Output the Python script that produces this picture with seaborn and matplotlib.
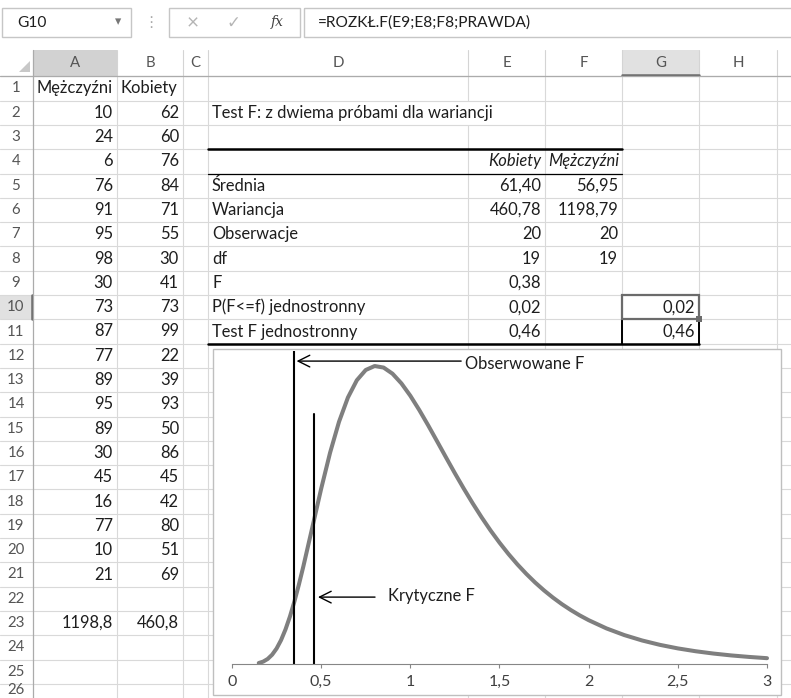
import matplotlib
matplotlib.use("Agg")
import matplotlib.pyplot as plt
import seaborn as sns
from matplotlib.patches import Rectangle, Polygon

sns.set_style("white")
plt.rcParams["font.family"] = ["Lato", "DejaVu Sans"]

# spreadsheet data
mezczyzni = [10, 24, 6, 76, 91, 95, 98, 30, 73, 87, 77, 89, 95, 89, 30, 45, 16, 77, 10, 21]
kobiety = [62, 60, 76, 84, 71, 55, 30, 41, 73, 99, 22, 39, 93, 50, 86, 45, 42, 80, 51, 69]
wariancje = ["1198,8", "460,8"]
stat_labels = ["Średnia", "Wariancja", "Obserwacje", "df", "F",
               "P(F<=f) jednostronny", "Test F jednostronny"]
kobiety_stats = ["61,40", "460,78", "20", "19", "0,38", "0,02", "0,46"]
mezczyzni_stats = ["56,95", "1198,79", "20", "19", "", "", ""]
g_values = ["0,02", "0,46"]
formula = "=ROZKŁ.F(E9;E8;F8;PRAWDA)"

# chart data: F(19,19) density
f_x = [0.15, 0.175, 0.20, 0.225, 0.25, 0.275, 0.30, 0.325, 0.35, 0.375, 0.40, 0.45,
       0.50, 0.55, 0.60, 0.65, 0.70, 0.75, 0.80, 0.85, 0.90, 0.95, 1.00, 1.05,
       1.10, 1.15, 1.20, 1.25, 1.30, 1.35, 1.40, 1.45, 1.50, 1.55, 1.60, 1.65,
       1.70, 1.75, 1.80, 1.85, 1.90, 1.95, 2.00, 2.10, 2.20, 2.30, 2.40, 2.50,
       2.60, 2.70, 2.80, 2.90, 3.00]
f_pdf = [0.0031, 0.0077, 0.0161, 0.0297, 0.0495, 0.0763, 0.1106, 0.1521, 0.2001,
         0.2539, 0.3120, 0.4360, 0.5606, 0.6760, 0.7747, 0.8525, 0.9077, 0.9406,
         0.9532, 0.9483, 0.9287, 0.8976, 0.8581, 0.8126, 0.7635, 0.7124, 0.6609,
         0.6100, 0.5608, 0.5137, 0.4690, 0.4271, 0.3882, 0.3521, 0.3189, 0.2885,
         0.2606, 0.2353, 0.2123, 0.1914, 0.1726, 0.1555, 0.1402, 0.1138, 0.0925,
         0.0752, 0.0612, 0.0499, 0.0408, 0.0334, 0.0274, 0.0226, 0.0186]
obs_f, obs_top = 0.35, 1.0
crit_f, crit_top = 0.46, 0.8
x_ticks = [0, 0.5, 1, 1.5, 2, 2.5, 3]
x_tick_labels = ["0", "0,5", "1", "1,5", "2", "2,5", "3"]

W, H = 791, 698
fig = plt.figure(figsize=(W / 100, H / 100), dpi=100)
bg = fig.add_axes([0, 0, 1, 1])
bg.set_xlim(0, W)
bg.set_ylim(H, 0)
bg.axis("off")

ROW1, ROW_H = 88.5, 24.3
HEAD_TOP, HEAD_BOT = 50, 76.35
cols = {"A": (33, 117), "B": (117, 183), "C": (183, 208), "D": (208, 468),
        "E": (468, 545), "F": (545, 622), "G": (622, 699), "H": (699, 777)}
grid_c = "#d9d9d9"
txt_c = "#1e1e1e"
fs = 11.9


def ry(n):
    return ROW1 + (n - 1) * ROW_H


# formula bar
bg.add_patch(Rectangle((2, 8), 129, 29, fill=False, ec="#c6c6c6", lw=1))
bg.text(17, 23, "G10", ha="left", va="center", fontsize=11.2, color=txt_c)
bg.text(118, 21, "▾", ha="center", va="center", fontsize=9, color="#777777")
bg.text(151, 23, "⋮", ha="center", va="center", fontsize=11, color="#aaaaaa")
bg.add_patch(Rectangle((169, 8), 131, 29, fill=False, ec="#c6c6c6", lw=1))
bg.text(193, 23, "×", ha="center", va="center", fontsize=15, color="#b5b5b5")
bg.text(233, 23, "✓", ha="center", va="center", fontsize=12, color="#b5b5b5")
bg.text(277, 22, "fx", ha="center", va="center", fontsize=10, color="#444444",
        style="italic", family="DejaVu Serif")
bg.add_patch(Rectangle((304, 8), 500, 29, fill=False, ec="#c6c6c6", lw=1))
bg.text(318, 23, formula, ha="left", va="center", fontsize=11.2, color=txt_c)

# header fills
bg.add_patch(Rectangle((33, HEAD_TOP), 84, HEAD_BOT - HEAD_TOP, color="#d2d2d2", lw=0))
bg.add_patch(Rectangle((622, HEAD_TOP), 77, HEAD_BOT - HEAD_TOP, color="#e1e1e1", lw=0))
bg.plot([622, 699], [HEAD_BOT - 1, HEAD_BOT - 1], color="#6b6b6b", lw=1.8)
r10 = ry(10) - ROW_H / 2
bg.add_patch(Rectangle((0, r10), 33, ROW_H, color="#e1e1e1", lw=0))
bg.plot([32, 32], [r10, r10 + ROW_H], color="#6b6b6b", lw=1.8)
bg.add_patch(Polygon([(19, 72), (30, 72), (30, 61)], color="#c8c8c8", lw=0))

# gridlines
for n in range(1, 28):
    y = ry(n) - ROW_H / 2
    bg.plot([0, W], [y, y], color=grid_c, lw=0.8, zorder=1)
for x in [117, 183, 208, 468, 545, 622, 699, 777]:
    bg.plot([x, x], [HEAD_TOP, HEAD_BOT], color="#d4d4d4", lw=0.8, zorder=1)
    if x == 468:
        bg.plot([x, x], [HEAD_BOT, ry(2) - ROW_H / 2], color=grid_c, lw=0.8, zorder=1)
        bg.plot([x, x], [ry(2) + ROW_H / 2, H], color=grid_c, lw=0.8, zorder=1)
    else:
        bg.plot([x, x], [HEAD_BOT, H], color=grid_c, lw=0.8, zorder=1)
bg.plot([33, 33], [HEAD_TOP, H], color="#ababab", lw=0.9, zorder=2)
bg.plot([0, W], [HEAD_BOT, HEAD_BOT], color="#ababab", lw=0.9, zorder=2)

# column and row headers
for name, (x0, x1) in cols.items():
    bg.text((x0 + x1) / 2, 63, name, ha="center", va="center", fontsize=10.8, color="#555555")
for n in range(1, 27):
    y = min(ry(n), 690)
    bg.text(16, y, str(n), ha="center", va="center", fontsize=10.8, color="#555555")

# columns A and B
bg.text(36, ry(1), "Mężczyźni", ha="left", va="center", fontsize=fs, color=txt_c)
bg.text(120, ry(1), "Kobiety", ha="left", va="center", fontsize=fs, color=txt_c)
for i, (m, k) in enumerate(zip(mezczyzni, kobiety)):
    bg.text(113, ry(i + 2), str(m), ha="right", va="center", fontsize=fs, color=txt_c)
    bg.text(179, ry(i + 2), str(k), ha="right", va="center", fontsize=fs, color=txt_c)
bg.text(113, ry(23), wariancje[0], ha="right", va="center", fontsize=fs, color=txt_c)
bg.text(179, ry(23), wariancje[1], ha="right", va="center", fontsize=fs, color=txt_c)

# F-test table
bg.text(212, ry(2), "Test F: z dwiema próbami dla wariancji", ha="left", va="center",
        fontsize=fs, color=txt_c)
bg.text(541, ry(4), "Kobiety", ha="right", va="center", fontsize=fs, color=txt_c, style="italic")
bg.text(619, ry(4), "Mężczyźni", ha="right", va="center", fontsize=fs, color=txt_c, style="italic")
for i, lab in enumerate(stat_labels):
    bg.text(212, ry(i + 5), lab, ha="left", va="center", fontsize=fs, color=txt_c)
    bg.text(541, ry(i + 5), kobiety_stats[i], ha="right", va="center", fontsize=fs, color=txt_c)
    bg.text(618, ry(i + 5), mezczyzni_stats[i], ha="right", va="center", fontsize=fs, color=txt_c)
for i, v in enumerate(g_values):
    bg.text(695, ry(i + 10), v, ha="right", va="center", fontsize=fs, color=txt_c)

y3 = ry(3) + ROW_H / 2
y4 = ry(4) + ROW_H / 2
y11 = ry(11) + ROW_H / 2
bg.plot([208, 622], [y3, y3], color="black", lw=1.8, zorder=3)
bg.plot([208, 622], [y4, y4], color="black", lw=0.9, zorder=3)
bg.plot([208, 699], [y11, y11], color="black", lw=1.8, zorder=3)
bg.plot([622, 622], [ry(11) - ROW_H / 2, y11], color="black", lw=1.4, zorder=3)
bg.plot([699, 699], [ry(11) - ROW_H / 2, y11], color="black", lw=1.4, zorder=3)
bg.add_patch(Rectangle((622, r10), 77, ROW_H, fill=False, ec="#6b6b6b", lw=1.6, zorder=4))
bg.add_patch(Rectangle((696, r10 + ROW_H - 3), 6, 6, color="#6b6b6b", lw=0, zorder=5))

# chart area
bg.add_patch(Rectangle((213, 349), 568, 346, fc="white", ec="#bfbfbf", lw=1, zorder=6))

ax = fig.add_axes([232 / W, (H - 664) / H, 535 / W, 312.6 / H])
ax.patch.set_alpha(0)
sns.lineplot(x=f_x, y=f_pdf, ax=ax, color="#7f7f7f", lw=2.9, clip_on=False)
ax.plot([obs_f, obs_f], [0, obs_top], color="black", lw=1.5)
ax.plot([crit_f, crit_f], [0, crit_top], color="black", lw=1.5)

arrow = dict(arrowstyle="->, head_length=0.7, head_width=0.35", lw=1, color="black",
             mutation_scale=12, shrinkA=0, shrinkB=0)
ax.annotate("", xy=(0.362, 0.969), xytext=(1.285, 0.969), arrowprops=arrow)
ax.text(1.305, 0.96, "Obserwowane F", ha="left", va="center", fontsize=fs, color=txt_c)
ax.annotate("", xy=(0.482, 0.214), xytext=(0.802, 0.214), arrowprops=arrow)
ax.text(0.875, 0.217, "Krytyczne F", ha="left", va="center", fontsize=fs, color=txt_c)

ax.set_xlim(0, 3)
ax.set_ylim(0, 1.0)
ax.set_xticks(x_ticks)
ax.set_xticklabels(x_tick_labels)
ax.set_yticks([])
ax.set_xlabel("")
ax.set_ylabel("")
for s in ["top", "left", "right"]:
    ax.spines[s].set_visible(False)
ax.spines["bottom"].set_color("#868686")
ax.spines["bottom"].set_linewidth(0.8)
ax.tick_params(axis="x", direction="out", length=3, width=0.8, color="#868686",
               labelsize=11.5, labelcolor="#404040", pad=5, bottom=True)

fig.savefig("out.png", dpi=100)
